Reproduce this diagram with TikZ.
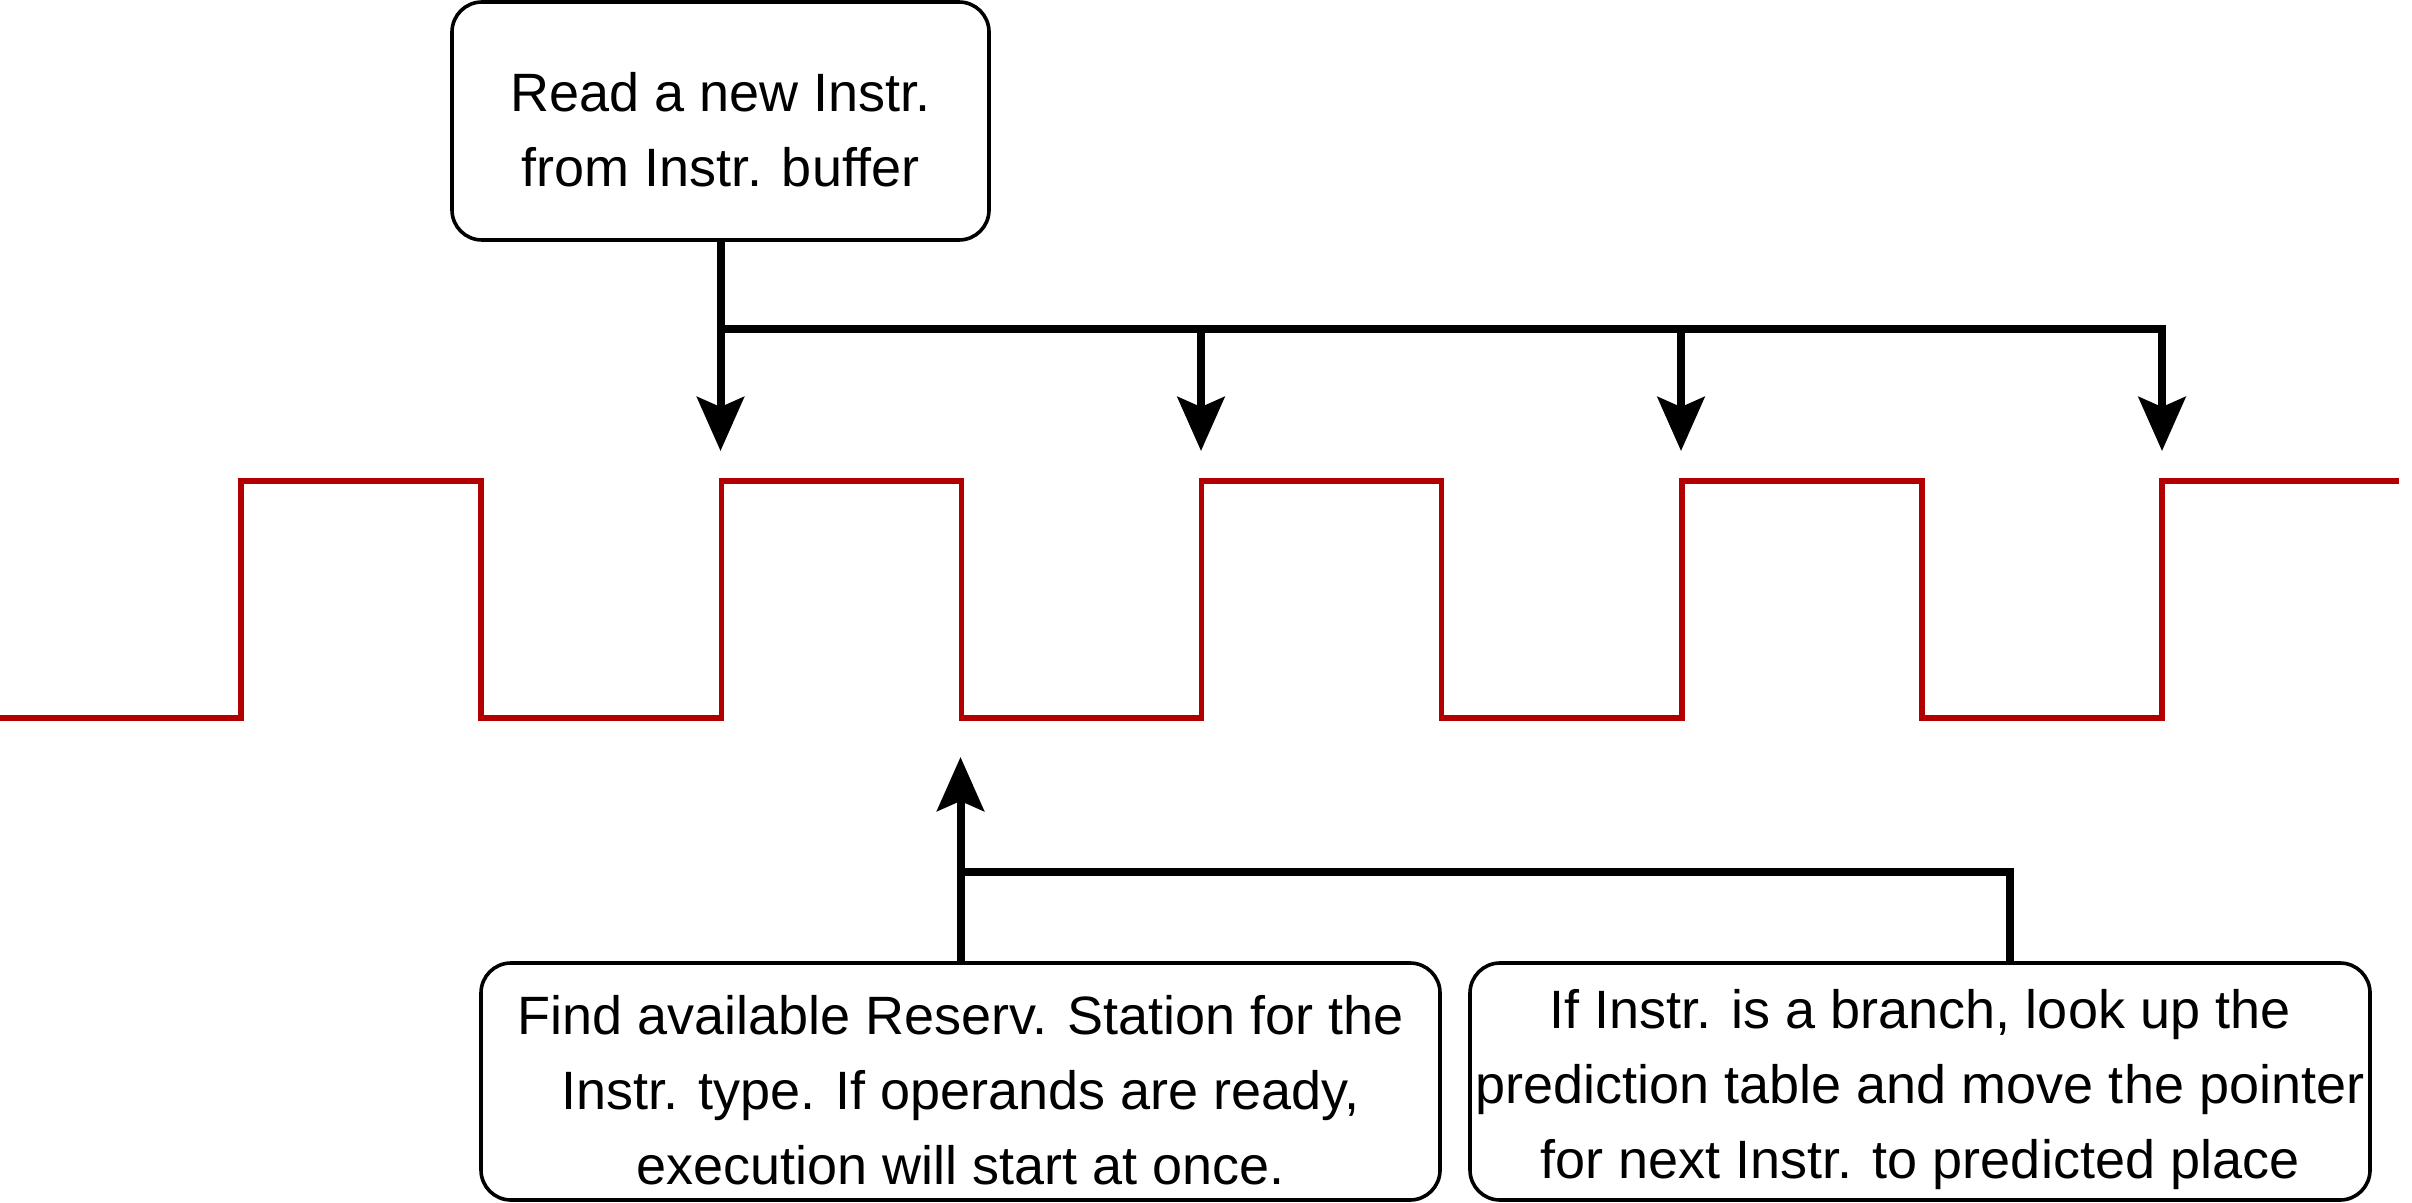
\documentclass[tikz,border=0pt]{standalone}
\usepackage{fontspec}
\setmainfont{Liberation Sans}
\usetikzlibrary{arrows.meta}
\definecolor{clockred}{HTML}{B20000}

\begin{document}
\begin{tikzpicture}[x=0.5pt, y=-0.5pt, >={Stealth[length=27pt,width=23.5pt,inset=5pt]},
    box/.style={draw, line width=1.8pt, rounded corners=15pt, align=center, inner sep=0pt,
        font=\fontsize{27}{37.5}\selectfont},
    conn/.style={line width=4pt},
    clock/.style={draw=clockred, line width=2.6pt}]
    \useasboundingbox (0,0) rectangle (2412,1203);
    % clock signal
    \draw[clock] (0,718) foreach \k in {0,...,3} {-| ({241+480.3*\k},481) -| ({481+480.3*\k},718)}
        -| (2162,481) -- (2399,481);
    % boxes
    \node[box, minimum width=268.5pt, minimum height=119pt] (read) at (720.5,121)
        {\rule{0pt}{28pt}Read a new Instr.\\from Instr. buffer};
    \node[box, minimum width=479.5pt, minimum height=118.5pt] (find) at (960.5,1081.5)
        {\rule{0pt}{28pt}Find available Reserv. Station for the\\Instr. type. If operands are ready,\\execution will start at once.};
    \node[box, minimum width=450pt, minimum height=118.5pt] (branch) at (1920,1081.5)
        {\rule{0pt}{28pt}If Instr. is a branch, look up the\\prediction table and move the pointer\\for next Instr. to predicted place};
    % fetch arrows onto rising edges
    \coordinate (bus) at (720.5,329);
    \foreach \x [count=\i] in {720.5,1201,1681,2162}
        \coordinate (tip\i) at (\x,451);
    \draw[conn,->] (read.south) -- (tip1);
    \draw[conn,->] (bus) -| (tip4);
    \foreach \i in {2,3}
        \draw[conn,->] (bus -| tip\i) -- (tip\i);
    % issue arrow onto falling edge
    \coordinate (issue) at (960.5,757);
    \coordinate (join) at (960.5,872);
    \draw[conn,->] (find.north) -- (issue);
    \draw[conn] (join) -| ([xshift=45pt]branch.north);
\end{tikzpicture}
\end{document}
